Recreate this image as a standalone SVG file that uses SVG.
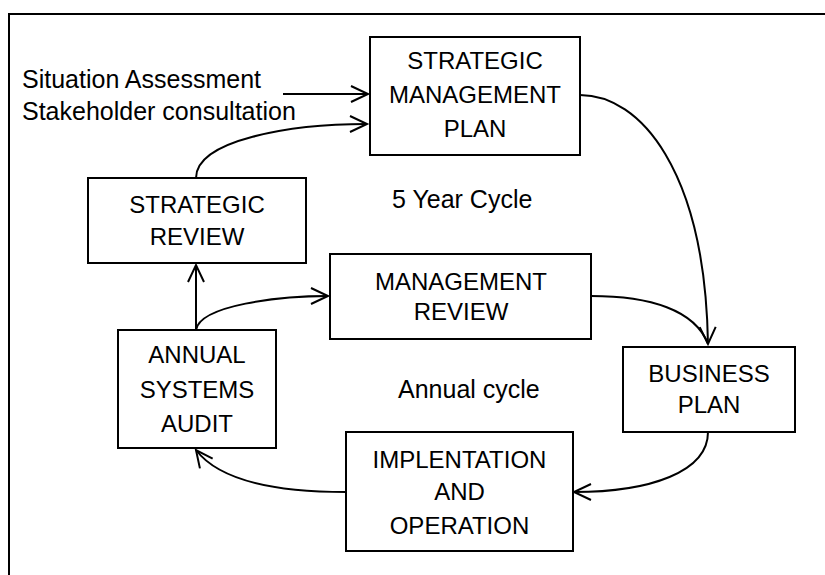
<svg xmlns="http://www.w3.org/2000/svg" width="825" height="575" viewBox="0 0 825 575">
<style>
.box{fill:#fff;stroke:#000;stroke-width:2}
.t{font-family:"Liberation Sans",Arial,sans-serif;font-size:24px;fill:#000;text-anchor:middle}
.l{font-family:"Liberation Sans",Arial,sans-serif;font-size:25px;fill:#000}
.c{fill:none;stroke:#000;stroke-width:2}
</style>
<defs>
<marker id="arr" markerUnits="userSpaceOnUse" markerWidth="40" markerHeight="40" viewBox="-20 -20 40 40" refX="0" refY="0" orient="auto">
<path d="M-17,-8 L0,0 L-17,8" fill="none" stroke="#000" stroke-width="2"/>
</marker>
</defs>
<rect width="825" height="575" fill="#fff"/>
<path d="M9,575 L9,14 L825,14" fill="none" stroke="#000" stroke-width="2"/>
<g id="connectors">
<path class="c" d="M283,94 L368,94" marker-end="url(#arr)"/>
<path class="c" d="M196,178 C196,140 290,124 367,124" marker-end="url(#arr)"/>
<path class="c" d="M580,95 C640,95 705,170 708,344" marker-end="url(#arr)"/>
<path class="c" d="M591,296 C650,296 695,310 708,344"/>
<path class="c" d="M708,432 C708,472 650,492 574,492" marker-end="url(#arr)"/>
<path class="c" d="M346,492 C260,492 215,475 196,450" marker-end="url(#arr)"/>
<path class="c" d="M196,330 L196,265" marker-end="url(#arr)"/>
<path class="c" d="M196,330 C200,305 280,296 328,296" marker-end="url(#arr)"/>
</g>
<g id="labels">
<text class="l" x="22" y="88">Situation Assessment</text>
<text class="l" x="22" y="120">Stakeholder consultation</text>
<text class="l" x="392" y="208">5 Year Cycle</text>
<text class="l" x="398" y="398">Annual cycle</text>
</g>
<g id="strategic-management-plan">
<rect class="box" x="370" y="37" width="210" height="118"/>
<text class="t" x="475" y="69">STRATEGIC</text>
<text class="t" x="475" y="103">MANAGEMENT</text>
<text class="t" x="475" y="137">PLAN</text>
</g>
<g id="strategic-review">
<rect class="box" x="88" y="178" width="218" height="85"/>
<text class="t" x="197" y="213">STRATEGIC</text>
<text class="t" x="197" y="245">REVIEW</text>
</g>
<g id="management-review">
<rect class="box" x="330" y="254" width="261" height="85"/>
<text class="t" x="461" y="290">MANAGEMENT</text>
<text class="t" x="461" y="320">REVIEW</text>
</g>
<g id="annual-systems-audit">
<rect class="box" x="118" y="330" width="158" height="118"/>
<text class="t" x="197" y="363">ANNUAL</text>
<text class="t" x="197" y="398">SYSTEMS</text>
<text class="t" x="197" y="432">AUDIT</text>
</g>
<g id="business-plan">
<rect class="box" x="623" y="347" width="172" height="85"/>
<text class="t" x="709" y="382">BUSINESS</text>
<text class="t" x="709" y="413">PLAN</text>
</g>
<g id="implementation">
<rect class="box" x="346" y="432" width="227" height="119"/>
<text class="t" x="459.5" y="468">IMPLENTATION</text>
<text class="t" x="459.5" y="500">AND</text>
<text class="t" x="459.5" y="534">OPERATION</text>
</g>
</svg>
